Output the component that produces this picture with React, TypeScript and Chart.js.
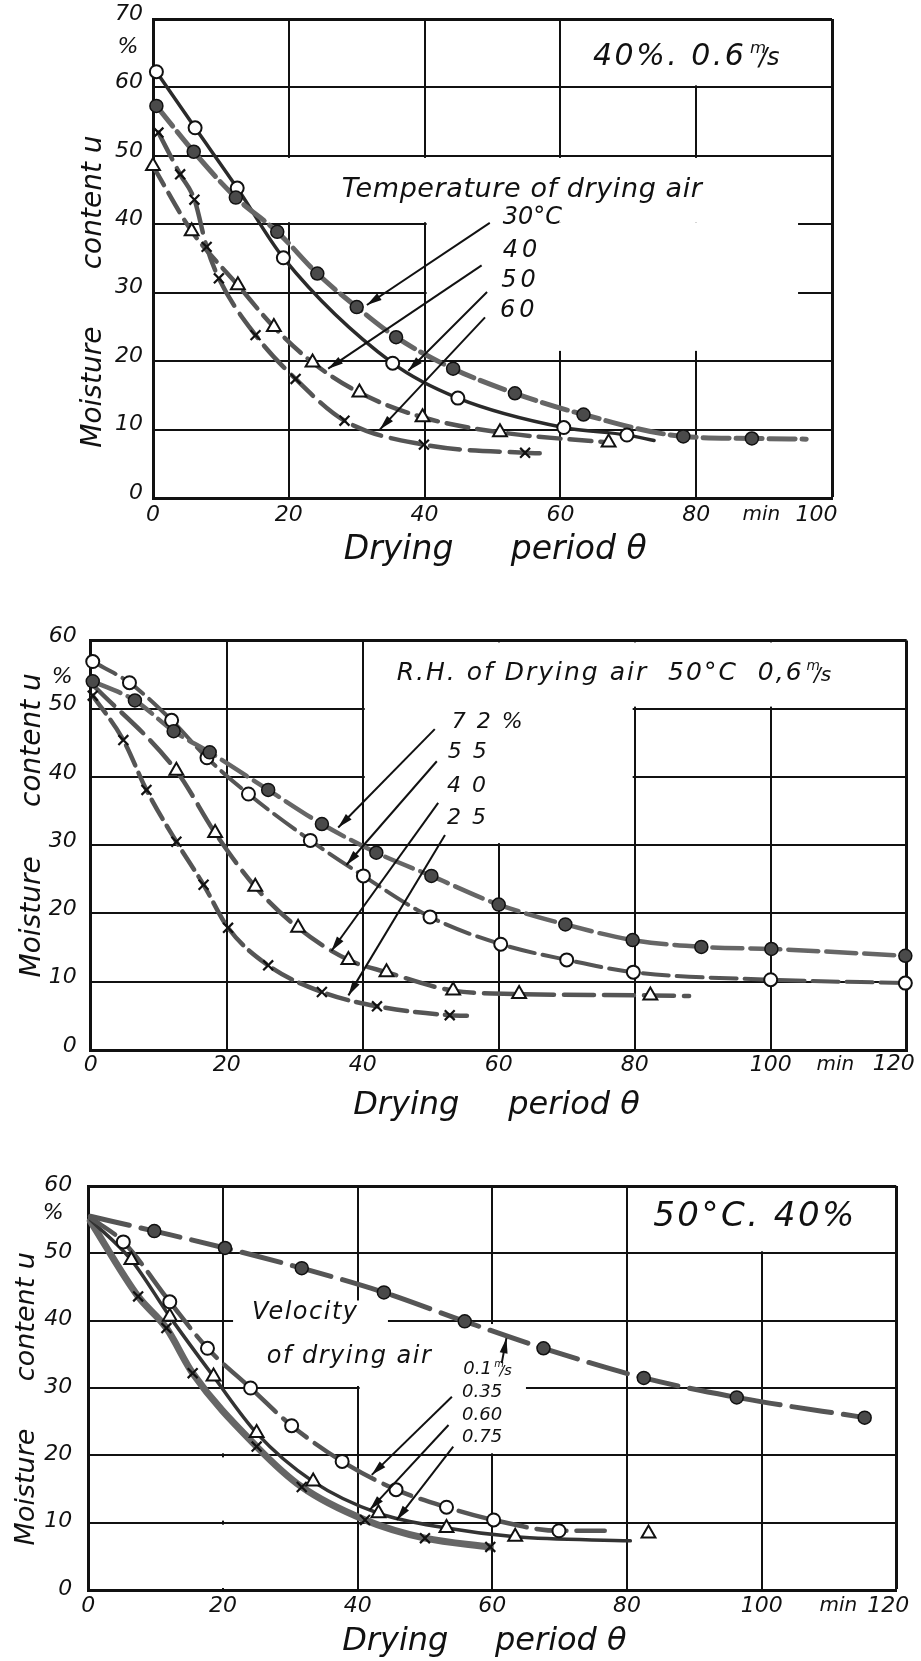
import React, { useEffect, useRef } from 'react';
import { Chart, registerables } from 'chart.js';

Chart.register(...registerables);

const FONT = '"DejaVu Sans", "Liberation Sans", sans-serif';

// ---------------- Panel 1 : temperature of drying air (40 %, 0.6 m/s)
const T30_X = [0.5, 6.0, 12.2, 18.3, 24.2, 30.0, 35.8, 44.2, 53.3, 63.4, 78.1, 88.2];
const T30_Y = [57.3, 50.6, 43.9, 38.9, 32.8, 27.9, 23.5, 18.9, 15.3, 12.2, 9.0, 8.7];
const T30_END = [96.2, 8.6];

const T40_X = [0.5, 6.2, 12.4, 19.2, 35.3, 44.9, 60.5, 69.8];
const T40_Y = [62.3, 54.1, 45.3, 35.1, 19.7, 14.6, 10.3, 9.2];
const T40_END = [73.8, 8.4];

const T50_X = [0.0, 5.7, 12.5, 17.8, 23.5, 30.4, 39.7, 51.1, 67.1];
const T50_Y = [48.5, 39.0, 31.1, 25.0, 19.8, 15.4, 11.8, 9.6, 8.1];

const T60_X = [0.8, 4.0, 6.1, 7.9, 9.7, 15.1, 21.0, 28.2, 39.9, 54.8];
const T60_Y = [53.4, 47.3, 43.6, 36.7, 32.1, 23.8, 17.4, 11.3, 7.8, 6.6];
const T60_END = [58.2, 6.5];

// ---------------- Panel 2 : relative humidity of drying air (50 °C, 0.6 m/s)
const RH72_X = [0.3, 6.5, 12.2, 17.5, 26.1, 34.0, 42.0, 50.1, 60.0, 69.8, 79.7, 89.8, 100.1, 119.8];
const RH72_Y = [54.0, 51.2, 46.7, 43.6, 38.1, 33.1, 28.9, 25.5, 21.3, 18.4, 16.1, 15.1, 14.8, 13.8];

const RH55_X = [0.3, 5.7, 11.9, 17.1, 23.2, 32.3, 40.1, 49.9, 60.3, 70.0, 79.8, 100.0, 119.8];
const RH55_Y = [56.9, 53.8, 48.3, 42.8, 37.5, 30.7, 25.5, 19.5, 15.5, 13.2, 11.4, 10.3, 9.8];

const RH40_X = [12.6, 18.3, 24.2, 30.5, 37.9, 43.5, 53.3, 63.0, 82.3];
const RH40_Y = [40.9, 31.8, 23.9, 17.9, 13.2, 11.4, 8.7, 8.2, 8.0];
const RH40_START = [0.3, 53.5];
const RH40_END = [88.0, 7.9];

const RH25_X = [0.3, 4.8, 8.2, 12.6, 16.6, 20.2, 26.1, 34.0, 42.1, 52.8];
const RH25_Y = [51.9, 45.4, 38.1, 30.5, 24.2, 17.9, 12.4, 8.5, 6.4, 5.1];
const RH25_END = [56.3, 5.0];

// ---------------- Panel 3 : velocity of drying air (50 °C, 40 %)
const V01_X = [9.8, 20.3, 31.7, 43.9, 55.9, 67.6, 82.5, 96.3, 115.3];
const V01_Y = [53.3, 50.8, 47.8, 44.2, 39.9, 35.9, 31.5, 28.6, 25.6];
const V01_START = [0.3, 55.5];

const V035_X = [5.2, 12.1, 17.7, 24.1, 30.2, 37.7, 45.7, 53.2, 60.2, 69.9];
const V035_Y = [51.7, 42.8, 35.9, 30.0, 24.4, 19.1, 14.9, 12.3, 10.4, 8.8];
const V035_START = [0.3, 55.3];
const V035_END = [76.7, 8.8];

const V060_X = [6.4, 12.1, 18.6, 25.0, 33.4, 43.1, 53.2, 63.4, 83.2];
const V060_Y = [49.0, 40.6, 31.7, 23.3, 16.1, 11.4, 9.2, 7.9, 8.4];
const V060_START = [0.3, 55.0];
const V060_END = [80.5, 7.3];

const V075_X = [7.4, 11.6, 15.5, 25.0, 31.7, 41.1, 50.0, 59.7];
const V075_Y = [43.6, 38.9, 32.2, 21.3, 15.3, 10.4, 7.7, 6.4];
const V075_START = [0.3, 54.8];

// ---------------- tick settings
const X_STEP = 20;
const Y_STEP = 10;

type Series = {
  xs: number[]; ys: number[]; start?: number[]; end?: number[];
  mark: 'filled' | 'open' | 'tri' | 'cross';
  color: string; width: number; dash: number[];
};

type TextItem = { t: string; x: number; y: number; s: number; ls?: number; a?: CanvasTextAlign; rot?: boolean; ms?: boolean };

type PanelSpec = {
  top: number; h: number;
  pad: { left: number; right: number; top: number; bottom: number };
  xMax: number; yMax: number; tickSize: number; xPad: number; yPad: number; yOff: number;
  series: Series[];
  erase: number[][];
  leaders: number[][];
  texts: TextItem[];
};

const MARK: Record<string, any> = {
  filled: { pointStyle: 'circle', pointBackgroundColor: '#4a4a4a', pointBorderColor: '#111', pointBorderWidth: 1.5, pointRadius: 6.5 },
  open: { pointStyle: 'circle', pointBackgroundColor: '#fff', pointBorderColor: '#111', pointBorderWidth: 2, pointRadius: 6.5 },
  tri: { pointStyle: 'triangle', pointBackgroundColor: '#fff', pointBorderColor: '#111', pointBorderWidth: 2, pointRadius: 8 },
  cross: { pointStyle: 'crossRot', pointBackgroundColor: '#fff', pointBorderColor: '#111', pointBorderWidth: 2.2, pointRadius: 7 },
};

const P1: PanelSpec = {
  top: 0, h: 570,
  pad: { left: 93, right: 89, top: 19, bottom: 32 },
  xMax: 100, yMax: 70, tickSize: 22, xPad: 4, yPad: 10, yOff: -5,
  series: [
    { xs: T30_X, ys: T30_Y, end: T30_END, mark: 'filled', color: '#666', width: 5, dash: [26, 7] },
    { xs: T40_X, ys: T40_Y, end: T40_END, mark: 'open', color: '#2a2a2a', width: 3.5, dash: [] },
    { xs: T50_X, ys: T50_Y, mark: 'tri', color: '#555', width: 4.5, dash: [22, 9] },
    { xs: T60_X, ys: T60_Y, end: T60_END, mark: 'cross', color: '#555', width: 4.5, dash: [30, 10] },
  ],
  erase: [[60.3, 100, 60.3, 70], [0.3, 100, 40.3, 49.7], [40.3, 95, 21.5, 40.3]],
  leaders: [[49.6, 40.2, 31.5, 28.2], [48.4, 34.0, 25.8, 18.9], [49.2, 30.1, 37.6, 18.6], [48.9, 26.4, 33.4, 10.0]],
  texts: [
    { t: 'Temperature of drying air', x: 27.8, y: 45.0, s: 27, ls: 0.6 },
    { t: '30°C', x: 51.5, y: 40.9, s: 24 },
    { t: '40', x: 51.5, y: 36.1, s: 24, ls: 4 },
    { t: '50', x: 51.3, y: 31.7, s: 24, ls: 4 },
    { t: '60', x: 51.1, y: 27.4, s: 24, ls: 4 },
    { t: '40%. 0.6', x: 64.8, y: 64.4, s: 30, ls: 2.5, ms: true },
    { t: '%', x: -3.7, y: 65.9, s: 22, a: 'center' },
    { t: 'min', x: 89.6, y: -2.5, s: 20, a: 'center' },
    { t: '100', x: 97.7, y: -2.5, s: 22, a: 'center' },
    { t: 'Drying', x: 28.1, y: -7.7, s: 33 },
    { t: 'period θ', x: 52.7, y: -7.7, s: 33 },
    { t: 'Moisture', x: -8.8, y: 16.2, s: 28, a: 'center', rot: true },
    { t: 'content u', x: -8.8, y: 43.2, s: 28, a: 'center', rot: true },
  ],
};

const P2: PanelSpec = {
  top: 570, h: 558,
  pad: { left: 30.7, right: 14.3, top: 70.4, bottom: 38 },
  xMax: 120, yMax: 60, tickSize: 22, xPad: 2, yPad: 14, yOff: -4,
  series: [
    { xs: RH72_X, ys: RH72_Y, mark: 'filled', color: '#666', width: 4.5, dash: [30, 8] },
    { xs: RH55_X, ys: RH55_Y, mark: 'open', color: '#555', width: 4, dash: [26, 8] },
    { xs: RH40_X, ys: RH40_Y, start: RH40_START, end: RH40_END, mark: 'tri', color: '#555', width: 4.5, dash: [30, 10] },
    { xs: RH25_X, ys: RH25_Y, end: RH25_END, mark: 'cross', color: '#555', width: 4.5, dash: [22, 8] },
  ],
  erase: [[40.3, 120, 50.3, 60], [40.3, 79.7, 30.3, 50.7]],
  leaders: [[50.6, 47.0, 36.4, 32.6], [50.9, 42.3, 37.6, 27.1], [51.1, 36.2, 35.4, 14.5], [52.1, 31.5, 37.9, 8.0]],
  texts: [
    { t: 'R.H. of Drying air  50°C  0,6', x: 45.0, y: 55.1, s: 25, ls: 2, ms: true },
    { t: '7 2 %', x: 53.1, y: 48.0, s: 22, ls: 2 },
    { t: '5 5', x: 52.5, y: 43.6, s: 22, ls: 2 },
    { t: '4 0', x: 52.4, y: 38.6, s: 22, ls: 2 },
    { t: '2 5', x: 52.4, y: 33.9, s: 22, ls: 2 },
    { t: '%', x: -4.2, y: 54.6, s: 22, a: 'center' },
    { t: 'min', x: 109.5, y: -2.1, s: 20, a: 'center' },
    { t: '120', x: 118.1, y: -2.1, s: 22, a: 'center' },
    { t: 'Drying', x: 38.6, y: -8.1, s: 32 },
    { t: 'period θ', x: 61.4, y: -8.1, s: 32 },
    { t: 'Moisture', x: -8.6, y: 19.5, s: 28, a: 'center', rot: true },
    { t: 'content u', x: -8.6, y: 45.4, s: 28, a: 'center', rot: true },
  ],
};

const P3: PanelSpec = {
  top: 1128, h: 533,
  pad: { left: 28.3, right: 24.7, top: 58, bottom: 31 },
  xMax: 120, yMax: 60, tickSize: 22, xPad: 3, yPad: 16, yOff: -1,
  series: [
    { xs: V01_X, ys: V01_Y, start: V01_START, mark: 'filled', color: '#555', width: 5, dash: [40, 12] },
    { xs: V035_X, ys: V035_Y, start: V035_START, end: V035_END, mark: 'open', color: '#555', width: 4.5, dash: [30, 10] },
    { xs: V060_X, ys: V060_Y, start: V060_START, end: V060_END, mark: 'tri', color: '#333', width: 3.5, dash: [] },
    { xs: V075_X, ys: V075_Y, start: V075_START, mark: 'cross', color: '#666', width: 7, dash: [] },
  ],
  erase: [
    [80.3, 120, 50.3, 60], [21.5, 44.5, 30.3, 43],
    [19.6, 20.4, 0.3, 9.7], [19.6, 20.4, 10.3, 19.7], [19.6, 20.4, 20.3, 29.7],
    [40.3, 65, 20.3, 39.5],
  ],
  leaders: [[61.4, 33.7, 62.1, 37.4], [54.0, 28.7, 42.1, 17.1], [53.5, 24.5, 41.8, 11.9], [54.2, 21.3, 45.8, 10.4]],
  texts: [
    { t: '50°C. 40%', x: 83.9, y: 55.3, s: 34, ls: 2.5 },
    { t: 'Velocity', x: 24.3, y: 41.1, s: 24, ls: 1.5 },
    { t: 'of drying air', x: 26.5, y: 34.6, s: 24, ls: 1.5 },
    { t: '0.1', x: 55.7, y: 32.7, s: 18, ms: true },
    { t: '0.35', x: 55.5, y: 29.4, s: 18 },
    { t: '0.60', x: 55.5, y: 26.0, s: 18 },
    { t: '0.75', x: 55.5, y: 22.7, s: 18 },
    { t: '%', x: -5.2, y: 56, s: 22, a: 'center' },
    { t: 'min', x: 111.4, y: -2.4, s: 20, a: 'center' },
    { t: '120', x: 118.8, y: -2.4, s: 22, a: 'center' },
    { t: 'Drying', x: 37.7, y: -7.7, s: 32 },
    { t: 'period θ', x: 60.4, y: -7.7, s: 32 },
    { t: 'Moisture', x: -9.1, y: 15.3, s: 27, a: 'center', rot: true },
    { t: 'content u', x: -9.1, y: 40.6, s: 27, a: 'center', rot: true },
  ],
};

const PANELS = [P1, P2, P3];

function pts(xs: number[], ys: number[]) {
  return xs.map((x, i) => ({ x, y: ys[i] }));
}

function curvePts(s: Series) {
  const out: { x: number; y: number }[] = [];
  if (s.start) out.push({ x: s.start[0], y: s.start[1] });
  out.push(...pts(s.xs, s.ys).filter((p) => !s.end || p.x < s.end[0]));
  if (s.end) out.push({ x: s.end[0], y: s.end[1] });
  return out;
}

function drawMs(ctx: CanvasRenderingContext2D, x: number, y: number, size: number) {
  ctx.letterSpacing = '0px';
  ctx.textAlign = 'left';
  ctx.font = `italic ${size * 0.55}px ${FONT}`;
  ctx.fillText('m', x, y - size * 0.28);
  const mw = ctx.measureText('m').width;
  ctx.font = `italic ${size * 0.8}px ${FONT}`;
  ctx.fillText('/s', x + mw * 0.55, y + size * 0.06);
}

function makeAnnot(spec: PanelSpec) {
  return {
    id: 'annot',
    beforeDatasetsDraw(chart: any) {
      const { ctx, chartArea: a, scales } = chart;
      const sx = scales.x, sy = scales.y;
      ctx.save();
      ctx.fillStyle = '#fff';
      for (const [x0, x1, y0, y1] of spec.erase) {
        const L = Math.max(sx.getPixelForValue(x0), a.left + 2);
        const R = Math.min(sx.getPixelForValue(x1), a.right - 2);
        const T = Math.max(sy.getPixelForValue(y1), a.top + 2);
        const B = Math.min(sy.getPixelForValue(y0), a.bottom - 2);
        ctx.fillRect(L, T, R - L, B - T);
      }
      ctx.restore();
    },
    afterDatasetsDraw(chart: any) {
      const { ctx, scales } = chart;
      const sx = scales.x, sy = scales.y;
      ctx.save();
      ctx.strokeStyle = '#111';
      ctx.fillStyle = '#111';
      ctx.lineWidth = 2;
      for (const [xa, ya, xb, yb] of spec.leaders) {
        const x0 = sx.getPixelForValue(xa), y0 = sy.getPixelForValue(ya);
        const x1 = sx.getPixelForValue(xb), y1 = sy.getPixelForValue(yb);
        ctx.beginPath();
        ctx.moveTo(x0, y0);
        ctx.lineTo(x1, y1);
        ctx.stroke();
        const ang = Math.atan2(y1 - y0, x1 - x0);
        const L = 15, W = 4;
        ctx.beginPath();
        ctx.moveTo(x1, y1);
        ctx.lineTo(x1 - L * Math.cos(ang) + W * Math.sin(ang), y1 - L * Math.sin(ang) - W * Math.cos(ang));
        ctx.lineTo(x1 - L * Math.cos(ang) - W * Math.sin(ang), y1 - L * Math.sin(ang) + W * Math.cos(ang));
        ctx.closePath();
        ctx.fill();
      }
      ctx.textBaseline = 'middle';
      for (const t of spec.texts) {
        const px = sx.getPixelForValue(t.x);
        const py = sy.getPixelForValue(t.y);
        ctx.save();
        ctx.font = `italic ${t.s}px ${FONT}`;
        ctx.letterSpacing = `${t.ls || 0}px`;
        ctx.textAlign = t.a || 'left';
        if (t.rot) {
          ctx.translate(px, py);
          ctx.rotate(-Math.PI / 2);
          ctx.fillText(t.t, 0, 0);
        } else {
          ctx.fillText(t.t, px, py);
          if (t.ms) {
            const w = ctx.measureText(t.t).width;
            drawMs(ctx, px + w + t.s * 0.12, py, t.s);
          }
        }
        ctx.restore();
      }
      ctx.restore();
    },
  };
}

function buildConfig(spec: PanelSpec): any {
  const curves = spec.series.map((s) => ({
    data: curvePts(s),
    showLine: true,
    borderColor: s.color,
    borderWidth: s.width,
    borderDash: s.dash,
    borderCapStyle: 'round',
    pointRadius: 0,
    cubicInterpolationMode: 'monotone',
    fill: false,
    clip: false,
    order: 2,
  }));
  const marks = spec.series.map((s) => ({
    data: pts(s.xs, s.ys),
    showLine: false,
    clip: false,
    order: 1,
    ...MARK[s.mark],
  }));
  const tickFont = { family: FONT, size: spec.tickSize, style: 'italic' as const };
  return {
    type: 'scatter',
    data: { datasets: [...curves, ...marks] },
    options: {
      animation: false,
      responsive: false,
      maintainAspectRatio: false,
      devicePixelRatio: 1,
      events: [],
      layout: { padding: spec.pad },
      plugins: { legend: { display: false }, tooltip: { enabled: false } },
      scales: {
        x: {
          type: 'linear', position: 'bottom', min: 0, max: spec.xMax,
          ticks: {
            stepSize: X_STEP, padding: spec.xPad, color: '#111', font: tickFont, maxRotation: 0, autoSkip: false,
            // the last label is written beside "min" (see texts)
            callback: (v: any) => (Number(v) === spec.xMax ? '' : String(v)),
          },
          grid: { color: '#111', lineWidth: (c: any) => (c.tick && c.tick.value === spec.xMax ? 3 : 2), drawTicks: false },
          border: { color: '#111', width: 3 },
          afterFit: (s: any) => { s.height = 40; s.paddingLeft = 0; s.paddingRight = 0; },
        },
        y: {
          type: 'linear', position: 'left', min: 0, max: spec.yMax,
          ticks: { stepSize: Y_STEP, padding: spec.yPad, color: '#111', font: tickFont, labelOffset: spec.yOff },
          grid: { color: '#111', lineWidth: (c: any) => (c.tick && c.tick.value === spec.yMax ? 3 : 2), drawTicks: false },
          border: { color: '#111', width: 3 },
          afterFit: (s: any) => { s.width = 60; s.paddingTop = 0; s.paddingBottom = 0; },
        },
      },
    },
    plugins: [makeAnnot(spec)],
  };
}

function Panel({ spec }: { spec: PanelSpec }) {
  const ref = useRef<HTMLCanvasElement>(null);
  useEffect(() => {
    const chart = new Chart(ref.current as HTMLCanvasElement, buildConfig(spec));
    return () => chart.destroy();
  }, [spec]);
  return (
    <canvas
      ref={ref}
      width={921}
      height={spec.h}
      style={{ position: 'absolute', left: 0, top: spec.top, width: 921, height: spec.h, display: 'block' }}
    />
  );
}

export default function App() {
  return (
    <div style={{ position: 'absolute', left: 0, top: 0, width: 921, height: 1661, background: '#fff', overflow: 'hidden' }}>
      {PANELS.map((p, i) => (
        <Panel key={i} spec={p} />
      ))}
    </div>
  );
}
